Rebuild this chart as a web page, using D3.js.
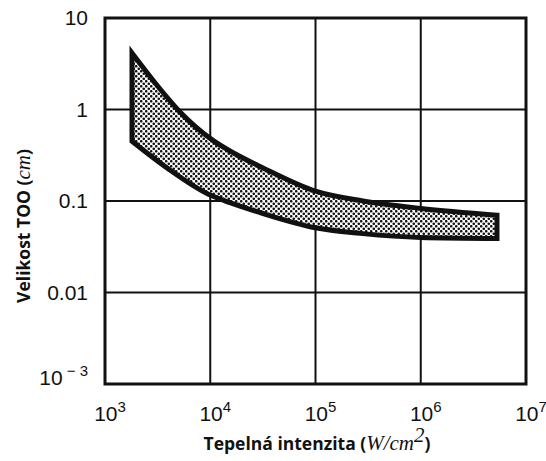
<!DOCTYPE html>
<html>
<head>
<meta charset="utf-8">
<script src="https://cdn.jsdelivr.net/npm/d3@7"></script>
<style>
  body { margin: 0; background: #fff; }
  .tick-label { font-family: "Liberation Sans", Arial, sans-serif; font-size: 21px; fill: #111; }
  .title { font-family: "Open Sans", sans-serif; font-weight: bold; font-size: 17.5px; fill: #111; }
  .math { font-family: "Liberation Serif", serif; font-style: italic; font-weight: normal; font-size: 21px; }
</style>
</head>
<body>
<div id="chart"></div>
<script>
(function (d3) {
    'use strict';

    // Decade ticks on both axes.
    var xTicks = [1e3, 1e4, 1e5, 1e6, 1e7];
    var yTicks = [10, 1, 0.1, 0.01, 0.001];

    // Upper and lower boundary of the band.
    var upperX = [1805, 3050, 5160, 10600, 15400, 31700, 1e5, 2.82e5, 1e6, 5.3e6];
    var upperY = [4.14, 1.9, 0.94, 0.46, 0.352, 0.23, 0.128, 0.10, 0.083, 0.07];
    var lowerX = [1805, 3880, 1e4, 15400, 31700, 1e5, 2.82e5, 1e6, 5.3e6];
    var lowerY = [0.45, 0.23, 0.116, 0.096, 0.073, 0.051, 0.044, 0.040, 0.039];

    var width = 546, height = 461;
    var margin = {top: 18, right: 20, bottom: 77, left: 105};

    var svg = d3.select('#chart').append('svg')
        .attr('width', width)
        .attr('height', height)
    ;

    var x = d3.scaleLog().domain([1e3, 1e7]).range([margin.left, width - margin.right]);
    var y = d3.scaleLog().domain([1e-3, 10]).range([height - margin.bottom, margin.top]);

    // Dotted fill.
    var defs = svg.append('defs');
    var pat = defs.append('pattern')
        .attr('id', 'dots')
        .attr('patternUnits', 'userSpaceOnUse')
        .attr('width', 5)
        .attr('height', 5)
    ;
    pat.append('rect').attr('width', 5).attr('height', 5).attr('fill', '#fff');
    pat.append('circle').attr('cx', 1.25).attr('cy', 1.25).attr('r', 1.3).attr('fill', '#111');
    pat.append('circle').attr('cx', 3.75).attr('cy', 3.75).attr('r', 1.3).attr('fill', '#111');

    // Grid lines.
    var grid = svg.append('g').attr('class', 'grid');
    grid.selectAll('.vx').data(xTicks.slice(1, -1)).enter()
        .append('line')
        .attr('x1', function (d) { return x(d); })
        .attr('x2', function (d) { return x(d); })
        .attr('y1', y.range()[1])
        .attr('y2', y.range()[0])
        .attr('stroke', '#111')
        .attr('stroke-width', 2)
    ;
    grid.selectAll('.hy').data(yTicks.slice(1, -1)).enter()
        .append('line')
        .attr('x1', x.range()[0])
        .attr('x2', x.range()[1])
        .attr('y1', function (d) { return y(d); })
        .attr('y2', function (d) { return y(d); })
        .attr('stroke', '#111')
        .attr('stroke-width', 2)
    ;

    // Band.
    var upper = upperX.map(function (v, i) { return [v, upperY[i]]; });
    var lower = lowerX.map(function (v, i) { return [v, lowerY[i]]; });
    var line = d3.line()
        .x(function (d) { return x(d[0]); })
        .y(function (d) { return y(d[1]); })
        .curve(d3.curveMonotoneX)
    ;
    var back = line(lower.slice().reverse());
    var band = line(upper) + 'L' + back.slice(1) + 'Z';

    svg.append('path')
        .attr('d', band)
        .attr('fill', 'url(#dots)')
        .attr('stroke', '#111')
        .attr('stroke-width', 5)
        .attr('stroke-linejoin', 'miter')
        .attr('stroke-miterlimit', 10)
    ;

    // Frame.
    svg.append('rect')
        .attr('x', x.range()[0])
        .attr('y', y.range()[1])
        .attr('width', x.range()[1] - x.range()[0])
        .attr('height', y.range()[0] - y.range()[1])
        .attr('fill', 'none')
        .attr('stroke', '#111')
        .attr('stroke-width', 3)
    ;

    // Y tick labels.
    var yl = svg.append('g');
    yTicks.forEach(function (d) {
        var t = yl.append('text')
            .attr('class', 'tick-label')
            .attr('x', x.range()[0] - 17)
            .attr('y', y(d) + 7)
            .attr('text-anchor', 'end')
        ;
        if (d < 0.01) {
            t.attr('y', y(d) + 1);
            t.append('tspan').text('10');
            t.append('tspan').attr('dy', -9).attr('font-size', 15).text(' \u2212 3');
        } else {
            t.text(d);
        }
    });

    // X tick labels.
    var xl = svg.append('g');
    xTicks.forEach(function (d) {
        var t = xl.append('text')
            .attr('class', 'tick-label')
            .attr('x', x(d) + 5)
            .attr('y', y.range()[0] + 37)
            .attr('text-anchor', 'middle')
        ;
        t.append('tspan').text('10');
        t.append('tspan').attr('dy', -9).attr('font-size', 15).text(Math.round(Math.log10(d)));
    });

    // Axis titles.
    var xt = svg.append('text')
        .attr('class', 'title')
        .attr('x', 317)
        .attr('y', 450)
        .attr('text-anchor', 'middle')
    ;
    xt.append('tspan').text('Tepelná intenzita (');
    xt.append('tspan').attr('class', 'math').text('W/cm');
    xt.append('tspan').attr('class', 'math').attr('font-size', 14).attr('dy', -8).text('2');
    xt.append('tspan').attr('dy', 8).text(')');

    var yt = svg.append('text')
        .attr('class', 'title')
        .attr('transform', 'translate(30,' + 226 + ') rotate(-90)')
        .attr('text-anchor', 'middle')
    ;
    yt.append('tspan').text('Velikost TOO (');
    yt.append('tspan').attr('class', 'math').text('cm');
    yt.append('tspan').text(')');

})(d3);
</script>
</body>
</html>
